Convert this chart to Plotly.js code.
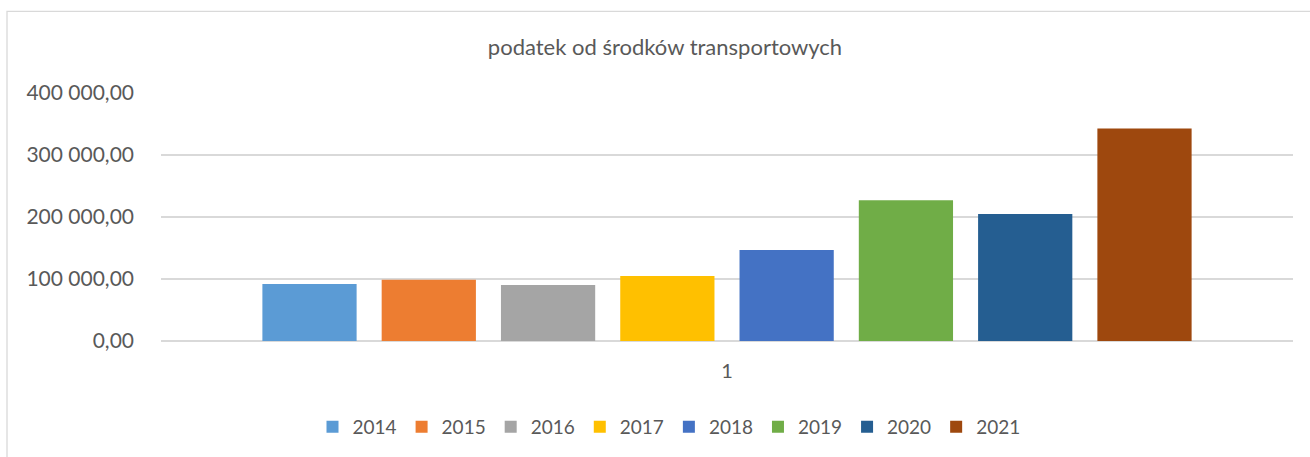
<!DOCTYPE html>
<html>
<head>
<meta charset="utf-8">
<script src="https://cdn.plot.ly/plotly-3.0.1.min.js"></script>
<style>html,body{margin:0;padding:0;background:#fff;}#chart{width:1310px;height:457px;}</style>
</head>
<body>
<div id="chart"></div>
<script>
const categories = ['1'];
const years = ['2014', '2015', '2016', '2017', '2018', '2019', '2020', '2021'];
const values = [92100, 98600, 90500, 105000, 146800, 227200, 204700, 342900];
const colors = ['#5B9BD5', '#ED7D31', '#A5A5A5', '#FFC000', '#4472C4', '#70AD47', '#255E91', '#9E480E'];
const yTicks = [0, 100000, 200000, 300000, 400000];
const chartTitle = 'podatek od środków transportowych';

const L = 161, R = 17, T = 93, B = 115, W = 1310, H = 457;
const pw = W - L - R, ph = H - T - B;

const traces = years.map((y, i) => ({
  type: 'bar',
  name: y,
  x: categories,
  y: [values[i]],
  marker: {color: colors[i]},
  hoverinfo: 'skip'
}));

const font = 'Lato, "Open Sans", sans-serif';
const layout = {
  width: W, height: H,
  margin: {l: L, r: R, t: T, b: B},
  paper_bgcolor: '#fff', plot_bgcolor: '#fff',
  separators: ', ',
  barmode: 'group',
  bargap: 0.157,
  bargroupgap: 0.21,
  font: {family: font, color: '#595959', size: 20},
  title: {text: chartTitle, font: {family: font, size: 22, color: '#595959'},
          x: (665 - L) / pw, xanchor: 'center', xref: 'paper', y: 1 - 47 / H, yanchor: 'middle', yref: 'container'},
  xaxis: {type: 'category', showgrid: false, zeroline: false, showline: false, ticks: '',
          tickfont: {size: 20, color: '#595959'}, ticklabelstandoff: 16},
  yaxis: {range: [0, 400000], tickvals: yTicks, tickformat: ',.2f', showgrid: true,
          gridcolor: '#d9d9d9', gridwidth: 1.3, zeroline: true, zerolinecolor: '#d9d9d9', zerolinewidth: 1.3,
          showline: false, ticks: '', tickfont: {size: 21, color: '#595959'}, ticklabelstandoff: 26},
  showlegend: true,
  legend: {orientation: 'h', x: (669 - L) / pw, xanchor: 'center', y: (342 - 427) / ph, yanchor: 'middle',
           font: {size: 19, color: '#595959'}, traceorder: 'normal', itemwidth: 30},
  shapes: [{type: 'rect', xref: 'paper', yref: 'paper',
            x0: (7 - L) / pw, x1: (1330 - L) / pw, y0: -(H + 20 - T - ph) / ph, y1: 1 + (T - 11) / ph,
            line: {color: '#d9d9d9', width: 1.3}, fillcolor: 'rgba(0,0,0,0)', layer: 'below'}]
};

Plotly.newPlot('chart', traces, layout, {displayModeBar: false, staticPlot: true});
</script>
</body>
</html>
